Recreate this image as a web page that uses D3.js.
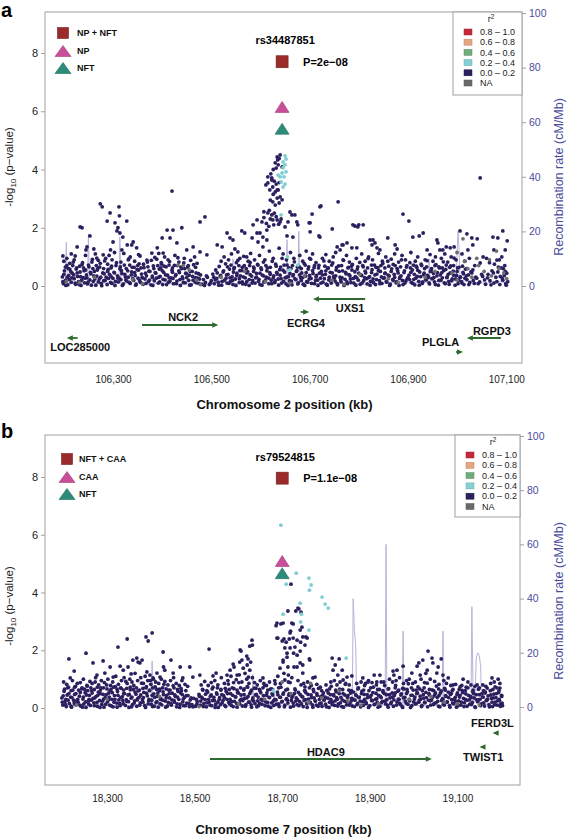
<!DOCTYPE html>
<html><head><meta charset="utf-8">
<script src="https://cdn.jsdelivr.net/npm/d3@7"></script>
<style>body{margin:0;background:#fff;}svg{display:block;}</style>
</head><body><svg id="c" width="567" height="838"></svg>
<script>
// ---------------- DATA ----------------
const yTicks = [0, 2, 4, 6, 8];
const recTicks = [0, 20, 40, 60, 80, 100];
const r2Labels = ["0.8 \u2013 1.0", "0.6 \u2013 0.8", "0.4 \u2013 0.6", "0.2 \u2013 0.4", "0.0 \u2013 0.2", "NA"];
const r2Colors = ["#c42a3c", "#e6a583", "#6fae7c", "#86d1d3", "#2c1f5f", "#6a6a6a"];

// Panel a
const aTicks = [106300, 106500, 106700, 106900, 107100];
const aLegend = ["NP + NFT", "NP", "NFT"];
const aLeadName = "rs34487851";
const aLeadP = "P=2e\u221208";
const aLeadKb = 106644;
const aLeadLogP = [7.70, 6.15, 5.40];
const aGeneNames = ["LOC285000", "NCK2", "ECRG4", "UXS1", "PLGLA", "RGPD3"];
const aGeneStart = [106210, 106359, 106682, 106711, 106998, 107024];
const aGeneEnd = [106228, 106510, 106695, 106813, 107008, 107089];
const aGeneStrand = ["-", "+", "+", "-", "+", "-"];

const aDarkBand = [[106197,.31],[106199,.08],[106201,.52],[106203,.19],[106206,.7],[106208,.04],[106210,.36],[106212,.58],[106215,.13],[106217,.44],
[106219,.82],[106221,.25],[106224,.06],[106226,.62],[106228,.33],[106230,.15],[106233,.48],[106235,.02],[106237,.74],[106239,.29],
[106242,.11],[106244,.55],[106246,.38],[106248,.07],[106251,.66],[106253,.21],[106255,.42],[106258,.91],[106260,.16],[106262,.5],
[106265,.03],[106267,.34],[106269,.6],[106272,.24],[106274,.78],[106276,.09],[106279,.45],[106281,.18],[106283,.86],[106286,.3],
[106288,.05],[106290,.57],[106293,.4],[106295,.12],[106297,.68],[106300,.26],[106302,.47],[106304,.02],[106307,.8],[106309,.35],
[106311,.14],[106314,.59],[106316,.22],[106318,.43],[106321,.07],[106323,.72],[106325,.31],[106328,.17],[106330,.52],[106332,.93],
[106335,.09],[106337,.38],[106339,.64],[106342,.2],[106344,.46],[106346,.03],[106349,.56],[106351,.27],[106353,.76],[106356,.12],
[106358,.41],[106361,.06],[106363,.63],[106365,.24],[106368,.35],[106370,.82],[106372,.15],[106375,.5],[106377,.04],[106380,.29],
[106382,.69],[106384,.18],[106387,.44],[106389,.92],[106392,.1],[106394,.58],[106396,.33],[106399,.75],[106401,.05],[106403,.47],
[106406,.21],[106408,.66],[106411,.37],[106413,.13],[106415,.84],[106418,.28],[106420,.54],[106423,.08],[106425,.71],[106428,.39],
[106430,.17],[106432,.97],[106435,.46],[106437,.02],[106440,.6],[106442,.25],[106444,.79],[106447,.11],[106449,.42],[106452,.65],
[106454,.19],[106457,.5],[106459,.04],[106462,.33],[106464,.73],[106467,.14],[106469,.45],[106472,.27],[106475,.09],[106478,.38],
[106481,.06],[106484,.22],[106488,.12],[106492,.3],[106496,.05],[106500,.18],[106503,.41],[106506,.08],[106509,.55],[106511,.26],
[106514,.13],[106516,.67],[106519,.36],[106521,.03],[106524,.48],[106527,.2],[106529,.76],[106532,.1],[106534,.4],[106537,.58],
[106539,.16],[106542,.31],[106544,.05],[106547,.63],[106549,.24],[106552,.44],[106554,.88],[106557,.12],[106559,.35],[106562,.53],
[106564,.07],[106567,.7],[106569,.28],[106572,.15],[106574,.49],[106577,.02],[106579,.81],[106582,.34],[106584,.19],[106587,.6],
[106589,.1],[106592,.43],[106594,.74],[106597,.23],[106599,.05],[106602,.57],[106604,.37],[106607,.14],[106609,.9],[106612,.3],
[106614,.62],[106617,.08],[106619,.46],[106622,.2],[106624,.85],[106627,.35],[106629,.12],[106632,.68],[106634,.41],[106637,.03],
[106639,.56],[106642,.25],[106644,.95],[106647,.16],[106649,.48],[106652,.07],[106654,.72],[106657,.32],[106659,.18],[106662,.6],
[106664,.04],[106667,.39],[106669,.83],[106672,.22],[106674,.53],[106677,.11],[106679,.66],[106682,.29],[106684,.45],[106687,.06],
[106689,.77],[106692,.34],[106694,.15],[106697,.58],[106699,.24],[106702,.92],[106704,.09],[106707,.43],[106709,.63],[106712,.19],
[106714,.36],[106717,.02],[106719,.71],[106722,.27],[106724,.5],[106727,.13],[106729,.86],[106732,.4],[106734,.06],[106737,.61],
[106739,.21],[106742,.47],[106744,.1],[106747,.79],[106749,.33],[106752,.17],[106754,.55],[106757,.04],[106759,.69],[106762,.3],
[106764,.14],[106767,.52],[106769,.88],[106772,.23],[106774,.42],[106777,.08],[106779,.64],[106782,.35],[106784,.12],[106787,.74],
[106789,.26],[106792,.49],[106794,.03],[106797,.58],[106799,.2],[106802,.81],[106804,.38],[106807,.11],[106809,.66],[106812,.29],
[106814,.45],[106817,.07],[106819,.94],[106822,.32],[106824,.16],[106827,.56],[106829,.24],[106832,.72],[106834,.05],[106837,.41],
[106839,.63],[106842,.18],[106844,.5],[106847,.09],[106849,.77],[106852,.28],[106854,.44],[106857,.13],[106859,.85],[106862,.34],
[106864,.06],[106867,.59],[106869,.22],[106872,.4],[106874,.7],[106877,.15],[106879,.53],[106882,.02],[106884,.31],[106887,.9],
[106889,.19],[106892,.46],[106894,.1],[106897,.65],[106899,.27],[106902,.37],[106904,.8],[106907,.12],[106909,.55],[106912,.23],
[106914,.04],[106917,.68],[106919,.33],[106922,.16],[106924,.48],[106927,.75],[106929,.09],[106932,.39],[106934,.6],[106937,.21],
[106939,.87],[106942,.3],[106944,.07],[106947,.52],[106949,.25],[106952,.43],[106954,.14],[106957,.73],[106959,.35],[106962,.03],
[106964,.62],[106967,.2],[106969,.46],[106972,.83],[106974,.11],[106977,.57],[106979,.29],[106982,.4],[106984,.06],[106987,.69],
[106989,.18],[106992,.51],[106994,.96],[106997,.24],[106999,.36],[107002,.08],[107004,.64],[107007,.3],[107009,.15],[107012,.47],
[107014,.05],[107017,.58],[107020,.22],[107023,.38],[107026,.12],[107030,.45],[107035,.09],[107040,.27],[107046,.14],[107052,.33],
[107058,.06],[107063,.4],[107067,.18],[107071,.52],[107075,.1],[107079,.3],[107083,.48],[107087,.05],[107090,.62],[107093,.2],
[107096,.36],[107099,.08],[107101,.44],[107103,.15]];
const aDarkLow = [[106198,.15],[106204,.02],[106211,.22],[106216,.28],[106223,.1],[106231,.05],[106236,.2],[106243,.27],[106249,.13],[106256,.03],[106263,.24],[106270,.14],[106277,.01],[106284,.19],[106291,.26],[106298,.09],[106305,.16],[106312,.28],[106319,.02],[106326,.21],[106333,.12],[106340,.25],[106347,.06],[106354,.18],[106360,.28],[106367,.09],[106374,.2],[106381,.02],[106388,.27],[106395,.14],[106402,.23],[106409,.05],[106416,.17],[106422,.26],[106429,.08],[106436,.22],[106443,.12],[106450,.29],[106456,.03],[106463,.2],[106470,.11],[106476,.24],[106486,.02],[106498,.1],[106508,.21],[106515,.03],[106522,.16],[106530,.27],[106536,.09],[106543,.19],[106550,.02],[106557,.25],[106563,.14],[106570,.06],[106577,.22],[106583,.1],[106590,.28],[106596,.16],[106603,.03],[106610,.2],[106617,.27],[106623,.08],[106630,.18],[106636,.24],[106643,.1],[106650,.28],[106656,.02],[106663,.17],[106670,.25],[106676,.07],[106683,.19],[106690,.02],[106696,.13],[106703,.26],[106710,.08],[106716,.2],[106723,.1],[106730,.25],[106736,.03],[106743,.17],[106750,.27],[106756,.09],[106763,.21],[106770,.02],[106776,.14],[106783,.24],[106790,.1],[106796,.28],[106803,.06],[106810,.18],[106816,.25],[106823,.03],[106830,.12],[106836,.22],[106843,.08],[106850,.27],[106856,.16],[106863,.02],[106870,.2],[106876,.11],[106883,.26],[106890,.05],[106896,.18],[106903,.23],[106910,.09],[106916,.27],[106923,.03],[106930,.14],[106936,.22],[106943,.11],[106950,.26],[106956,.05],[106963,.19],[106970,.28],[106976,.08],[106983,.16],[106990,.24],[106996,.03],[107003,.2],[107010,.1],[107016,.27],[107024,.05],[107033,.19],[107043,.08],[107056,.21],[107069,.04],[107081,.15],[107092,.26],[107100,.03]];
const aDarkLow2 = [[106200,.4],[106207,.3],[106214,.5],[106220,.38],[106227,.45],[106234,.32],[106241,.52],[106247,.28],[106254,.47],[106261,.35],[106268,.55],[106275,.3],[106282,.42],[106289,.5],[106296,.33],[106303,.45],[106310,.27],[106317,.53],[106324,.4],[106331,.3],[106338,.48],[106345,.36],[106352,.55],[106359,.29],[106366,.44],[106373,.51],[106380,.34],[106386,.46],[106393,.3],[106400,.53],[106407,.38],[106414,.28],[106421,.47],[106427,.35],[106434,.52],[106441,.31],[106448,.44],[106455,.37],[106461,.5],[106468,.29],[106474,.42],[106490,.35],[106505,.3],[106512,.45],[106518,.33],[106525,.52],[106531,.38],[106538,.28],[106545,.48],[106552,.36],[106558,.53],[106565,.31],[106572,.45],[106579,.39],[106586,.5],[106592,.3],[106599,.44],[106606,.35],[106613,.52],[106620,.4],[106626,.28],[106633,.47],[106640,.37],[106646,.54],[106653,.3],[106660,.43],[106666,.35],[106673,.5],[106680,.38],[106686,.29],[106693,.46],[106700,.36],[106706,.53],[106713,.31],[106720,.44],[106726,.38],[106733,.52],[106740,.3],[106746,.45],[106753,.35],[106760,.5],[106766,.28],[106773,.47],[106780,.39],[106786,.55],[106793,.32],[106800,.44],[106806,.36],[106813,.51],[106820,.29],[106826,.46],[106833,.38],[106840,.53],[106846,.31],[106853,.43],[106860,.37],[106866,.5],[106873,.3],[106880,.45],[106886,.35],[106893,.52],[106900,.28],[106906,.47],[106913,.4],[106920,.54],[106926,.32],[106933,.44],[106940,.36],[106946,.5],[106953,.29],[106960,.46],[106966,.38],[106973,.53],[106980,.31],[106986,.45],[106993,.37],[107000,.5],[107006,.3],[107013,.42],[107019,.35],[107028,.48],[107038,.3],[107050,.4],[107062,.28],[107074,.45],[107088,.33],[107098,.5]];
const aDarkMid = [[106200,.85],[106206,.95],[106212,.78],[106221,.9],[106238,.8],[106244,1.05],[106257,.82],[106264,1.1],[106270,.88],[106285,.95],[106292,1.05],[106298,.9],[106303,1.15],[106316,.82],[106322,1.12],[106331,.9],[106344,.85],[106352,1.08],[106362,.75],[106378,.88],[106385,.98],[106393,1.12],[106398,.8],[106405,1.0],[106412,.9],[106426,1.05],[106434,.82],[106445,.95],[106458,.88],[106466,1.0],[106471,.78],[106520,.85],[106526,1.0],[106535,.9],[106541,1.1],[106551,.8],[106558,.95],[106566,1.02],[106575,.85],[106580,1.12],[106588,.9],[106598,1.05],[106606,.82],[106618,1.2],[106626,.95],[106638,1.3],[106646,1.1],[106653,.9],[106661,1.15],[106668,.95],[106680,1.05],[106686,.85],[106693,1.2],[106700,.95],[106706,1.1],[106713,.8],[106726,.95],[106733,1.08],[106740,.85],[106748,1.0],[106753,1.15],[106768,.9],[106775,1.05],[106781,.82],[106795,.95],[106806,1.1],[106813,.85],[106820,1.0],[106828,.9],[106840,1.12],[106848,.85],[106855,1.0],[106866,.92],[106873,1.1],[106881,.82],[106888,1.05],[106895,.9],[106906,1.15],[106915,.85],[106920,1.0],[106935,.9],[106945,1.08],[106951,.85],[106956,1.0],[106968,.95],[106975,1.1],[106981,.82],[106988,1.0],[106998,.9],[107010,1.1],[107016,.85],[107025,.95],[107036,.7],[107060,.95],[107066,.8],[107076,.75],[107086,.9],[107097,.7]];
const aDarkMid2 = [[106203,.65],[106209,.6],[106218,.7],[106225,.58],[106232,.68],[106240,.62],[106250,.72],[106259,.6],[106266,.7],[106273,.65],[106281,.6],[106289,.75],[106296,.62],[106306,.7],[106315,.66],[106327,.6],[106334,.72],[106343,.64],[106350,.7],[106357,.62],[106371,.66],[106383,.6],[106391,.7],[106397,.62],[106404,.68],[106414,.72],[106421,.62],[106431,.7],[106438,.65],[106446,.6],[106453,.7],[106468,.64],[106533,.66],[106540,.72],[106546,.6],[106556,.7],[106563,.64],[106571,.6],[106578,.7],[106586,.65],[106595,.72],[106601,.62],[106611,.7],[106620,.64],[106631,.75],[106641,.65],[106648,.72],[106658,.62],[106665,.7],[106675,.65],[106683,.6],[106691,.72],[106698,.66],[106710,.7],[106718,.62],[106731,.68],[106738,.62],[106745,.72],[106755,.64],[106765,.7],[106778,.62],[106785,.68],[106798,.66],[106808,.7],[106818,.62],[106826,.72],[106835,.64],[106845,.7],[106853,.62],[106861,.68],[106870,.74],[106878,.6],[106885,.66],[106898,.7],[106905,.62],[106911,.72],[106918,.64],[106928,.7],[106938,.66],[106948,.6],[106955,.7],[106963,.66],[106970,.62],[106978,.72],[106985,.64],[106993,.7],[107001,.62],[107011,.68],[107020,.6],[107084,.65],[107094,.6]];
const aDarkHigh = [[106198,1.03],[106215,1.1],[106223,1.03],[106227,1.34],[106237,2.0],[106233,2.03],[106247,1.34],[106253,1.72],[106245,1.24],[106261,1.27],[106274,2.82],[106278,2.72],[106294,2.51],[106304,2.17],[106288,2.23],[106312,2.72],[106313,2.41],[106328,2.23],[106308,1.89],[106310,2.0],[106314,1.82],[106300,1.51],[106320,1.68],[106329,1.41],[106338,1.41],[106341,1.51],[106348,1.31],[106318,1.24],[106295,1.24],[106280,1.07],[106267,.96],[106335,1.0],[106355,1.03],[106369,.89],
[106420,3.26],[106410,1.92],[106422,1.92],[106440,2.0],[106400,1.65],[106390,1.31],[106416,1.65],[106430,1.48],[106402,1.13],[106379,1.13],[106450,1.24],[106477,2.2],[106487,2.37],[106463,1.34],[106477,1.17],[106491,1.07],[106512,1.41],[106522,1.34],[106532,1.82],[106538,1.65],[106544,1.58],[106548,1.27],[106562,1.89],[106554,1.17],[106572,1.0],[106583,1.65],[106593,2.27],[106595,1.51],[106599,1.82],[106605,1.34],[106613,1.92],
[106640,4.5],[106634,4.43],[106635,4.33],[106636,4.16],[106630,4.23],[106644,4.09],[106615,3.75],[106611,3.47],[106623,3.64],[106625,3.4],[106619,3.3],[106630,3.23],[106636,3.3],[106640,3.06],[106644,2.96],[106634,3.02],[106625,2.89],[106630,2.78],[106615,2.51],[106623,2.44],[106625,2.27],[106634,2.27],[106640,2.2],[106660,2.54],[106664,2.44],[106674,2.2],[106656,2.2],[106676,2.1],[106650,2.03],[106701,2.17],[106721,2.72],[106758,2.89],[106585,2.1],[106593,1.82],[106568,1.82],[106605,1.68],[106613,1.58],[106701,1.86],[106721,1.68],[106756,1.34],[106766,1.41],[106776,1.48],[106788,2.1],[106809,2.1],[106798,2.03],[106829,1.58],
[106615,3.54],[106623,3.71],[106634,3.3],[106607,2.35],[106612,2.15],[106617,2.05],[106620,2.3],[106627,2.1],[106632,2.38],[106637,2.12],[106642,2.3],[106628,2.5],[106618,2.6],[106632,3.5],[106638,3.55],[106628,3.6],[106621,3.85],[106626,4.0],[106632,4.05],[106638,4.38],[106626,3.15],[106620,2.95],[106638,2.85],[106603,2.2],[106607,2.55],
[106670,2.44],[106654,1.72],[106666,1.68],[106705,2.47],[106723,2.75],[106746,1.96],[106699,2.17],[106792,2.06],[106800,2.1],[106719,1.72],[106768,1.41],[106762,1.24],[106786,1.31],[106796,1.31],[106823,1.58],[106833,1.48],[106827,1.41],[106837,1.31],[106843,1.24],[106859,1.65],[106874,1.41],[106878,1.27],[106890,2.47],[106902,2.23],[106910,1.68],[106923,1.72],[106931,1.82],[106939,1.24],[106959,1.58],[106961,1.48],[106965,1.24],[106971,1.24],[106978,1.34],[106986,1.31],[106994,1.34],[107006,1.89],[107020,1.79],[107030,1.65],[107041,1.62],[107047,3.71],[107032,1.41],[107022,1.24],[107053,1.0],[107073,1.68],[107083,1.65],[107093,1.89],[107102,1.55],[107098,1.24],[107091,1.0],[107075,1.24],[107081,.89],[107047,.79],[107032,.55]];
const aNA = [[106205,.15],[106232,.12],[106262,.3],[106340,.22],[106360,.08],[106432,.72],[106443,.7],[106455,.55],[106470,.2],[106478,.05],[106520,.3],[106568,.5],[106610,.15],[106660,.1],[106690,.35],[106745,.2],[106770,.06],[106802,.4],[106860,.25],[106880,.12],[106935,.3],[106955,.5],[106990,.45],[107000,.2],[107015,.85],[107022,.6],[107030,.3],[107044,.7],[107055,.5],[107066,.9],[107070,.35],[107085,.6],[107095,.45],[107101,.25],[107012,1.62],[107000,1.15],[107040,.95],[107080,1.2]];
const aCyan = [[106650,4.47],[106652,4.36],[106646,4.26],[106650,4.16],[106646,4.06],[106652,3.92],[106644,3.88],[106640,3.75],[106648,3.75],[106642,3.57],[106650,3.5],[106646,3.4],[106636,3.81],[106642,2.44],[106676,.72],[106660,.55],[106655,1.0]];
const aRec = [[106197,1.2],[106203,1.5],[106205,16],[106207,1.0],[106215,0.8],[106230,1.5],[106248,1.2],[106250,19],[106252,1.0],[106270,0.8],[106290,1.2],[106312,1.0],[106314,18],[106316,0.8],[106340,1.5],[106370,0.5],[106400,1.2],[106430,0.6],[106460,1.0],[106490,0.5],[106520,1.5],[106542,1.0],[106544,10],[106546,0.8],[106580,1.3],[106610,0.9],[106652,1.0],[106654,17],[106656,1.2],[106676,1.5],[106678,20],[106680,1.5],[106700,1.0],[106730,0.8],[106770,1.2],[106810,0.6],[106850,1.0],[106890,1.5],[106930,1.2],[106941,1.5],[106943,10],[106945,2.0],[106970,1.3],[106998,2],[107000,12],[107002,20],[107004,14],[107006,2],[107030,1.5],[107060,1.0],[107080,1.8],[107104,1.0]];

// Panel b
const bTicks = [18300, 18500, 18700, 18900, 19100];
const bLegend = ["NFT + CAA", "CAA", "NFT"];
const bLeadName = "rs79524815";
const bLeadP = "P=1.1e\u221208";
const bLeadKb = 18700;
const bLeadLogP = [7.96, 5.09, 4.67];
const bGeneNames = ["HDAC9", "TWIST1", "FERD3L"];
const bGeneStart = [18535, 19155, 19185];
const bGeneEnd = [19037, 19163, 19193];
const bGeneStrand = ["+", "-", "-"];

const bDarkBand = [[18197,.35],[18199,.1],[18202,.58],[18204,.22],[18207,.05],[18209,.45],[18212,.72],[18214,.16],[18217,.38],[18219,.03],
[18222,.62],[18224,.27],[18227,.12],[18229,.5],[18232,.85],[18234,.2],[18237,.41],[18240,.07],[18242,.66],[18245,.31],
[18247,.14],[18250,.53],[18252,.02],[18255,.76],[18257,.24],[18260,.44],[18262,.09],[18265,.61],[18268,.33],[18270,.18],
[18273,.9],[18275,.4],[18278,.06],[18280,.55],[18283,.26],[18286,.7],[18288,.13],[18291,.47],[18293,.03],[18296,.36],
[18299,.8],[18301,.21],[18304,.52],[18306,.1],[18309,.64],[18311,.3],[18314,.04],[18317,.43],[18319,.74],[18322,.17],
[18324,.57],[18327,.28],[18330,.08],[18332,.68],[18335,.39],[18337,.15],[18340,.5],[18343,.92],[18345,.23],[18348,.45],
[18350,.02],[18353,.63],[18355,.34],[18358,.12],[18361,.78],[18363,.25],[18366,.48],[18368,.06],[18371,.59],[18373,.37],
[18376,.18],[18379,.86],[18381,.29],[18384,.54],[18386,.09],[18389,.7],[18392,.42],[18394,.14],[18397,.6],[18399,.95],
[18402,.27],[18404,.05],[18407,.49],[18410,.73],[18412,.19],[18415,.4],[18417,.03],[18420,.65],[18423,.32],[18425,.11],
[18428,.56],[18430,.82],[18433,.24],[18436,.44],[18438,.07],[18441,.62],[18443,.35],[18446,.15],[18449,.51],[18451,.77],
[18454,.2],[18456,.4],[18459,.04],[18462,.58],[18464,.3],[18467,.13],[18469,.68],[18472,.46],[18475,.08],[18477,.37],
[18480,.6],[18482,.17],[18485,.43],[18488,.05],[18490,.28],[18494,.12],[18498,.33],[18502,.06],[18506,.22],[18510,.47],
[18513,.1],[18516,.38],[18519,.62],[18521,.15],[18524,.29],[18527,.04],[18530,.55],[18533,.2],[18536,.41],[18539,.08],
[18542,.72],[18545,.26],[18548,.13],[18551,.48],[18554,.02],[18557,.36],[18560,.64],[18563,.18],[18566,.44],[18569,.09],
[18572,.58],[18574,.3],[18577,.83],[18580,.14],[18582,.5],[18585,.22],[18588,.05],[18590,.67],[18593,.39],[18596,.16],
[18598,.53],[18601,.88],[18604,.27],[18606,.45],[18609,.07],[18612,.62],[18614,.33],[18617,.12],[18620,.74],[18622,.4],
[18625,.2],[18628,.56],[18630,.03],[18633,.35],[18636,.69],[18638,.15],[18641,.47],[18644,.25],[18646,.08],[18649,.6],
[18652,.3],[18654,.13],[18657,.43],[18660,.78],[18662,.21],[18665,.52],[18668,.06],[18670,.37],[18673,.65],[18676,.18],
[18678,.45],[18681,.09],[18684,.84],[18686,.28],[18689,.55],[18692,.14],[18694,.38],[18697,.72],[18700,.23],[18702,.48],
[18705,.04],[18708,.62],[18710,.32],[18713,.17],[18716,.5],[18718,.88],[18721,.26],[18724,.42],[18726,.07],[18729,.66],
[18732,.35],[18734,.12],[18737,.54],[18740,.22],[18743,.8],[18745,.4],[18748,.05],[18751,.6],[18753,.29],[18756,.15],
[18759,.47],[18762,.7],[18764,.19],[18767,.36],[18770,.03],[18772,.57],[18775,.25],[18778,.1],[18780,.44],[18783,.68],
[18786,.16],[18788,.39],[18791,.06],[18794,.52],[18796,.28],[18799,.13],[18802,.61],[18804,.34],[18807,.02],[18810,.46],
[18812,.75],[18815,.2],[18818,.42],[18820,.09],[18823,.56],[18826,.3],[18828,.14],[18831,.65],[18834,.37],[18836,.05],
[18839,.5],[18842,.24],[18844,.82],[18847,.11],[18850,.43],[18852,.62],[18855,.18],[18858,.33],[18860,.07],[18863,.55],
[18866,.27],[18868,.45],[18871,.12],[18874,.7],[18876,.38],[18879,.04],[18882,.58],[18884,.22],[18887,.47],[18890,.85],
[18892,.15],[18895,.36],[18898,.6],[18900,.08],[18903,.44],[18906,.26],[18908,.72],[18911,.13],[18914,.51],[18916,.32],
[18919,.03],[18922,.64],[18924,.4],[18927,.19],[18930,.55],[18932,.9],[18935,.24],[18938,.46],[18940,.1],[18943,.67],
[18946,.35],[18948,.15],[18951,.52],[18954,.06],[18956,.43],[18959,.78],[18962,.21],[18964,.58],[18967,.3],[18970,.12],
[18972,.49],[18975,.02],[18978,.66],[18980,.37],[18983,.17],[18986,.56],[18988,.84],[18991,.25],[18994,.44],[18996,.08],
[18999,.62],[19002,.31],[19004,.14],[19007,.5],[19010,.73],[19012,.2],[19015,.41],[19018,.05],[19020,.6],[19023,.34],
[19026,.18],[19028,.54],[19031,.86],[19034,.27],[19036,.45],[19039,.1],[19042,.63],[19044,.38],[19047,.16],[19050,.52],
[19052,.76],[19055,.23],[19058,.43],[19060,.04],[19063,.59],[19066,.32],[19068,.13],[19071,.68],[19074,.4],[19076,.2],
[19079,.55],[19082,.08],[19084,.47],[19087,.29],[19090,.64],[19092,.15],[19095,.37],[19098,.03],[19100,.52],[19103,.25],
[19106,.44],[19108,.1],[19111,.61],[19114,.33],[19116,.18],[19119,.49],[19122,.06],[19124,.7],[19127,.28],[19130,.4],
[19132,.12],[19135,.57],[19138,.35],[19140,.04],[19143,.46],[19146,.22],[19148,.65],[19151,.3],[19154,.14],[19156,.5],
[19159,.38],[19162,.07],[19164,.55],[19167,.26],[19170,.42],[19172,.12],[19175,.6],[19178,.33],[19180,.05],[19183,.48],
[19186,.2],[19188,.36],[19191,.1],[19194,.53],[19196,.27],[19199,.15],[19201,.4],[19203,.08]];
const bDarkLow = [[18198,.2],[18205,.12],[18211,.27],[18218,.06],[18225,.18],[18231,.25],[18238,.1],[18244,.03],[18251,.21],[18258,.14],[18264,.27],[18271,.08],[18277,.19],[18284,.02],[18290,.24],[18297,.13],[18303,.28],[18310,.07],[18316,.2],[18323,.03],[18329,.16],[18336,.26],[18342,.09],[18349,.22],[18356,.04],[18362,.17],[18369,.28],[18375,.1],[18382,.2],[18388,.02],[18395,.25],[18401,.13],[18408,.06],[18414,.22],[18421,.15],[18427,.27],[18434,.03],[18440,.19],[18447,.1],[18453,.26],[18460,.14],[18466,.02],[18473,.21],[18479,.08],[18487,.16],[18496,.04],[18505,.13],[18514,.24],[18520,.05],[18528,.18],[18535,.1],[18541,.26],[18547,.02],[18553,.2],[18559,.12],[18565,.27],[18571,.05],[18578,.19],[18584,.09],[18591,.23],[18597,.03],[18603,.15],[18610,.26],[18616,.06],[18623,.2],[18629,.11],[18635,.24],[18642,.04],[18648,.17],[18655,.27],[18661,.08],[18667,.19],[18674,.02],[18680,.25],[18687,.13],[18693,.05],[18699,.21],[18706,.1],[18712,.27],[18719,.03],[18725,.17],[18731,.24],[18738,.08],[18744,.14],[18750,.26],[18757,.02],[18763,.19],[18769,.11],[18776,.24],[18782,.06],[18789,.17],[18795,.28],[18801,.04],[18808,.2],[18814,.12],[18821,.25],[18827,.07],[18833,.18],[18840,.03],[18846,.22],[18853,.1],[18859,.27],[18865,.05],[18872,.16],[18878,.24],[18885,.09],[18891,.2],[18897,.02],[18904,.26],[18910,.12],[18917,.19],[18923,.06],[18929,.23],[18936,.14],[18942,.03],[18949,.2],[18955,.28],[18961,.1],[18968,.17],[18974,.05],[18981,.24],[18987,.13],[18993,.02],[19000,.21],[19006,.16],[19013,.27],[19019,.09],[19025,.2],[19032,.04],[19038,.25],[19045,.12],[19051,.18],[19057,.06],[19064,.26],[19070,.1],[19077,.21],[19083,.03],[19089,.17],[19096,.24],[19102,.09],[19109,.2],[19115,.05],[19121,.27],[19128,.13],[19134,.19],[19141,.02],[19147,.24],[19153,.08],[19160,.18],[19166,.27],[19173,.04],[19179,.2],[19185,.11],[19192,.25],[19198,.06],[19202,.17]];
const bDarkLow2 = [[18200,.42],[18206,.3],[18213,.5],[18220,.36],[18226,.47],[18233,.3],[18239,.54],[18246,.38],[18253,.45],[18259,.3],[18266,.52],[18272,.35],[18279,.44],[18285,.5],[18292,.31],[18298,.46],[18305,.38],[18312,.53],[18318,.3],[18325,.44],[18331,.36],[18338,.5],[18344,.29],[18351,.47],[18357,.38],[18364,.55],[18370,.32],[18377,.45],[18383,.36],[18390,.51],[18396,.3],[18403,.44],[18409,.37],[18416,.52],[18422,.3],[18429,.46],[18435,.35],[18442,.5],[18448,.28],[18455,.45],[18461,.38],[18468,.52],[18474,.31],[18481,.43],[18492,.35],[18504,.3],[18511,.4],[18518,.33],[18525,.48],[18532,.3],[18538,.45],[18544,.37],[18550,.52],[18556,.29],[18562,.46],[18568,.36],[18575,.5],[18581,.3],[18587,.44],[18594,.38],[18600,.52],[18607,.31],[18613,.46],[18619,.35],[18626,.5],[18632,.28],[18639,.45],[18645,.38],[18651,.53],[18658,.3],[18664,.44],[18671,.36],[18677,.5],[18683,.3],[18690,.46],[18696,.37],[18703,.52],[18709,.3],[18715,.44],[18722,.36],[18728,.5],[18735,.29],[18741,.46],[18747,.38],[18754,.53],[18760,.31],[18766,.45],[18773,.35],[18779,.5],[18785,.3],[18792,.44],[18798,.38],[18805,.52],[18811,.3],[18817,.46],[18824,.36],[18830,.5],[18837,.28],[18843,.45],[18849,.37],[18856,.52],[18862,.31],[18869,.43],[18875,.36],[18881,.5],[18888,.3],[18894,.46],[18901,.38],[18907,.53],[18913,.3],[18920,.44],[18926,.36],[18933,.5],[18939,.29],[18945,.46],[18952,.38],[18958,.52],[18965,.31],[18971,.45],[18977,.35],[18984,.5],[18990,.3],[18997,.44],[19003,.38],[19009,.52],[19016,.3],[19022,.46],[19029,.36],[19035,.5],[19041,.28],[19048,.45],[19054,.37],[19061,.52],[19067,.31],[19073,.43],[19080,.36],[19086,.5],[19093,.3],[19099,.46],[19105,.38],[19112,.53],[19118,.3],[19125,.44],[19131,.36],[19137,.5],[19144,.29],[19150,.46],[19157,.38],[19163,.52],[19169,.31],[19176,.45],[19182,.35],[19189,.5],[19195,.3],[19201,.44]];
const bDarkMid = [[18201,.9],[18208,.82],[18221,.95],[18228,.75],[18239,.88],[18246,1.0],[18254,.78],[18261,.92],[18266,.85],[18274,1.05],[18281,.8],[18287,.95],[18294,.88],[18302,1.0],[18308,.78],[18313,.9],[18320,1.1],[18326,.82],[18333,.95],[18339,1.05],[18346,.85],[18352,1.0],[18357,.9],[18364,1.2],[18370,.95],[18377,1.05],[18383,.85],[18387,1.1],[18393,.95],[18400,.82],[18406,1.0],[18411,.9],[18418,.85],[18424,1.0],[18432,.92],[18439,.8],[18445,.95],[18452,1.05],[18458,.85],[18465,.78],[18471,.95],[18478,.82],[18484,.75],[18515,.8],[18523,.92],[18531,.78],[18538,.88],[18546,.95],[18553,.8],[18561,1.05],[18568,.85],[18576,.95],[18583,1.1],[18589,.88],[18595,.98],[18602,1.15],[18608,.9],[18615,1.2],[18619,1.0],[18624,.85],[18632,1.05],[18637,.88],[18643,.8],[18650,.95],[18658,.85],[18664,.78],[18671,.9],[18683,.95],[18690,1.1],[18696,.85],[18704,1.2],[18714,.9],[18722,1.05],[18736,.95],[18749,.85],[18758,.9],[18766,.78],[18779,.82],[18787,.72],[18800,.8],[18811,.9],[18819,.95],[18825,.8],[18832,.9],[18845,.85],[18853,.8],[18870,.85],[18880,.9],[18888,.78],[18897,.95],[18905,.88],[18915,.8],[18926,.9],[18934,.78],[18945,1.0],[18952,.9],[18960,.95],[18968,1.05],[18977,.85],[18984,.95],[18990,1.0],[18998,.85],[19004,.9],[19017,1.0],[19025,.88],[19028,1.2],[19038,1.0],[19048,.92],[19058,.82],[19069,.95],[19075,.85],[19085,.78],[19096,.82],[19110,.78],[19120,.72],[19131,.8],[19140,.75],[19150,.7],[19158,.8],[19165,.75],[19176,.85],[19184,.9],[19190,.7],[19197,.85]];
const bDarkMid2 = [[18203,.65],[18210,.7],[18218,.6],[18226,.72],[18235,.62],[18243,.7],[18249,.65],[18256,.6],[18263,.7],[18271,.64],[18278,.72],[18285,.62],[18292,.7],[18300,.66],[18307,.6],[18315,.72],[18323,.65],[18331,.7],[18338,.62],[18345,.68],[18353,.72],[18360,.64],[18367,.7],[18374,.62],[18382,.68],[18390,.74],[18397,.62],[18404,.7],[18413,.65],[18420,.6],[18427,.7],[18435,.66],[18444,.62],[18453,.7],[18461,.64],[18470,.6],[18518,.64],[18528,.6],[18540,.66],[18552,.7],[18560,.62],[18570,.68],[18579,.64],[18586,.7],[18597,.62],[18605,.7],[18613,.66],[18621,.72],[18630,.62],[18640,.68],[18648,.64],[18656,.7],[18667,.62],[18676,.66],[18692,.7],[18712,.65],[18730,.62],[18752,.6],[18771,.64],[18790,.6],[18808,.66],[18822,.62],[18838,.64],[18858,.6],[18873,.66],[18886,.62],[18902,.7],[18918,.64],[18930,.6],[18942,.66],[18958,.7],[18966,.62],[18975,.68],[18985,.64],[18995,.7],[19006,.62],[19014,.66],[19024,.7],[19036,.64],[19046,.6],[19057,.66],[19072,.62],[19088,.6],[19104,.64],[19118,.6],[19136,.62],[19160,.6],[19181,.64],[19195,.6]];
const bDarkHigh = [[18213,1.7],[18225,1.28],[18216,1.04],[18252,1.9],[18268,1.56],[18277,1.14],[18291,1.63],[18295,1.21],[18307,1.42],[18314,1.07],[18325,2.11],[18330,1.45],[18337,1.31],[18346,2.39],[18348,1.42],[18355,1.18],[18359,1.66],[18368,1.73],[18371,1.59],[18375,1.56],[18380,1.66],[18389,2.46],[18394,2.32],[18403,2.6],[18391,1.25],[18398,1.14],[18405,1.04],[18414,1.21],[18428,1.94],[18429,1.42],[18432,1.31],[18421,1.07],[18446,1.66],[18451,1.21],[18467,1.42],[18473,1.04],[18489,1.42],[18496,1.07],[18512,1.14],[18533,2.04],[18542,1.11],[18549,1.21],[18574,1.14],[18581,1.31],[18590,1.42],[18597,1.14],[18604,2.01],[18608,1.66],[18611,1.38],[18620,1.49],[18622,1.7],[18626,1.31],[18631,2.35],[18632,2.18],[18623,1.07],[18656,1.04],[18606,1.97],[18619,1.8],[18628,1.59],[18603,1.59],[18588,1.52],[18626,2.14],
[18720,4.29],[18713,3.36],[18702,2.94],[18697,2.91],[18738,3.43],[18743,3.32],[18725,2.91],[18745,2.8],[18719,2.66],[18688,2.42],[18700,2.32],[18709,2.28],[18734,2.35],[18754,2.46],[18752,2.18],[18718,2.08],[18711,1.9],[18726,1.9],[18741,1.97],[18702,1.59],[18713,1.42],[18734,1.42],[18741,1.56],[18695,1.38],[18747,1.21],[18714,1.14],[18763,1.66],[18706,.97],[18690,2.42],[18704,2.39],[18716,2.39],[18725,2.42],[18731,3.36],[18736,3.46],[18722,2.94],[18741,2.7],[18747,2.46],[18757,2.42],[18742,2.28],[18718,2.6],[18706,2.08],[18729,2.11],[18734,1.83],[18762,1.7],[18747,1.49],[18711,1.76],[18727,1.42],[18702,1.66],[18688,2.94],[18686,2.85],
[18770,1.04],[18775,1.07],[18752,.73],[18814,1.73],[18830,1.7],[18821,1.49],[18816,1.31],[18837,1.31],[18827,1.14],[18848,1.07],[18859,1.11],[18839,.97],[18884,1.04],[18896,.9],[18910,1.14],[18923,1.14],[18916,.9],[18953,1.28],[18962,1.31],[18955,1.14],[18976,1.45],[18996,1.21],[19008,1.45],[19012,1.56],[19021,1.66],[19033,1.97],[19042,1.73],[19044,1.56],[19031,1.31],[19015,1.14],[19063,1.7],[19056,1.42],[19053,1.21],[19067,1.14],[19079,1.04],[19106,.73],[19113,1.0],[19124,.9],[19145,.8],[19168,.69],[19179,1.04],[19193,1.0],[19186,.73],[19197,.69],[19090,.8]];
const bNA = [[18230,.1],[18300,.3],[18420,.4],[18510,.05],[18600,.15],[18660,.3],[18720,.5],[18760,.2],[18790,.35],[18830,.6],[18850,.25],[18880,.1],[18920,.15],[18990,.3],[19040,.4],[19070,.2],[19100,.15],[19150,.1],[18700,.9],[18765,.85]];
const bCyan = [[18697,6.33],[18732,4.67],[18709,4.29],[18761,4.5],[18766,4.26],[18762,4.08],[18791,3.84],[18798,3.6],[18805,3.46],[18741,3.63],[18702,3.25],[18742,2.98],[18761,2.7],[18846,1.73],[18679,.59],[18744,3.25]];
const bRec = [[18197,0.5],[18230,0.8],[18270,0.3],[18320,0.6],[18360,0.4],[18401,0.8],[18403,17],[18405,0.8],[18440,0.5],[18480,0.3],[18520,0.6],[18560,0.4],[18600,0.5],[18631,0.6],[18633,12],[18635,0.8],[18660,0.5],[18680,0.8],[18682,7],[18684,0.8],[18720,0.4],[18760,0.6],[18800,0.3],[18840,0.5],[18860,0.8],[18862,40],[18865,28],[18868,22],[18870,1],[18900,0.6],[18935,0.8],[18937,60],[18939,1],[18960,0.5],[18974,0.8],[18976,28],[18978,0.8],[19020,0.5],[19065,0.6],[19067,28],[19069,0.8],[19100,0.5],[19131,0.6],[19133,37],[19136,1],[19140,3],[19143,18],[19146,20],[19150,19],[19153,15],[19155,2],[19170,0.8],[19203,0.5]];

// ---------------- LAYOUT / DRAWING ----------------
const FONT = '"Liberation Sans", Arial, Helvetica, sans-serif';
const svg = d3.select("#c").attr("font-family", FONT);
const C = {dark:"#2c1f5f", cyan:"#7dcfd2", na:"#6e6e6e", rec:"#b8b4d8", frame:"#a0a0a0",
           axisBlue:"#4b4c9c", gene:"#2f6a2f", sq:"#9b2b2a", pink:"#c84f97", teal:"#2c8c79"};

function drawPanel(P) {
  const g = svg.append("g");
  const x = d3.scaleLinear().domain(P.xDomain).range([P.left, P.right]);
  const y = d3.scaleLinear().domain([0, 8]).range([P.y0, P.y8]);
  const rec = d3.scaleLinear().domain([0, 100]).range([P.rec0, P.rec100]);

  g.append("text").attr("x", 1).attr("y", P.letterY).attr("font-size", 20).attr("font-weight", "bold").text(P.letter);

  g.append("rect").attr("x", P.left).attr("y", P.top).attr("width", P.right - P.left).attr("height", P.bottom - P.top)
    .attr("fill", "none").attr("stroke", C.frame).attr("stroke-width", 1);

  g.append("path").datum(P.rec).attr("fill", "none").attr("stroke", C.rec).attr("stroke-width", 1)
    .attr("d", d3.line().x(d => x(d[0])).y(d => rec(d[1])));

  const pts = (arr, col) => g.append("g").selectAll("circle").data(arr).join("circle")
    .attr("cx", d => x(d[0])).attr("cy", d => y(d[1])).attr("r", 1.9).attr("fill", col);
  pts(P.dark, C.dark);
  pts(P.na, C.na);
  pts(P.cyan, C.cyan);

  const lx = x(P.leadKb);
  const sq = 12;
  g.append("rect").attr("x", lx - sq/2).attr("y", y(P.leadLogP[0]) - sq/2).attr("width", sq).attr("height", sq)
    .attr("fill", C.sq).attr("stroke", "#7a1f1f").attr("stroke-width", 0.6);
  const tri = (cx, cy, w, h, col, st) => g.append("path")
    .attr("d", `M${cx},${cy - h/2}L${cx + w/2},${cy + h/2}L${cx - w/2},${cy + h/2}Z`)
    .attr("fill", col).attr("stroke", st).attr("stroke-width", 0.6);
  tri(lx, y(P.leadLogP[1]), 14, 11, C.pink, "#a33a78");
  tri(lx, y(P.leadLogP[2]), 14, 11, C.teal, "#1f6b5b");
  g.append("text").attr("x", lx + 3).attr("y", P.snpNameY).attr("text-anchor", "middle").attr("font-size", 11)
    .attr("font-weight", "bold").text(P.leadName);
  g.append("text").attr("x", lx + 21).attr("y", y(P.leadLogP[0])).attr("dy", "0.35em").attr("font-size", 11)
    .attr("font-weight", "bold").text(P.leadP);

  const gl = g.append("g").attr("transform", `translate(${P.left},0)`)
    .call(d3.axisLeft(y).tickValues(yTicks).tickSize(4).tickPadding(3));
  gl.select(".domain").remove();
  gl.attr("font-family", FONT).attr("font-size", 11);
  gl.selectAll("line").attr("stroke", C.frame);
  gl.selectAll("text").attr("fill", "#222");

  const gr = g.append("g").attr("transform", `translate(${P.right},0)`)
    .call(d3.axisRight(rec).tickValues(recTicks).tickSize(4).tickPadding(3));
  gr.select(".domain").remove();
  gr.attr("font-family", FONT).attr("font-size", 10.5);
  gr.selectAll("line").attr("stroke", C.frame);
  gr.selectAll("text").attr("fill", C.axisBlue);

  const gb = g.append("g").attr("transform", `translate(0,${P.bottom})`)
    .call(d3.axisBottom(x).tickValues(P.ticks).tickFormat(d3.format(",")).tickSize(0).tickPadding(P.tickPad));
  gb.select(".domain").remove();
  gb.attr("font-family", FONT).attr("font-size", 10);
  gb.selectAll("text").attr("fill", "#222");

  const lt = g.append("text").attr("transform", `translate(13,${P.leftTitleY}) rotate(-90)`)
    .attr("text-anchor", "middle").attr("font-size", 11.5).attr("fill", "#222");
  lt.append("tspan").text("-log");
  lt.append("tspan").attr("font-size", 8).attr("dy", 3).text("10");
  lt.append("tspan").attr("dy", -3).text(" (p\u2212value)");
  g.append("text").attr("transform", `translate(563,${P.rightTitleY}) rotate(-90)`)
    .attr("text-anchor", "middle").attr("font-size", 12.5).attr("fill", C.axisBlue).text("Recombination rate (cM/Mb)");
  g.append("text").attr("x", (P.left + P.right) / 2 + P.titleDx).attr("y", P.titleY).attr("text-anchor", "middle")
    .attr("font-size", 13).attr("font-weight", "bold").attr("fill", "#111").text(P.title);

  P.geneNames.forEach((nm, i) => {
    const x1 = x(P.geneStart[i]), x2 = x(P.geneEnd[i]), gy = P.geneRowY[i];
    g.append("line").attr("x1", x1).attr("x2", x2).attr("y1", gy).attr("y2", gy)
      .attr("stroke", C.gene).attr("stroke-width", 1.8);
    const tip = P.geneStrand[i] === "+" ? x2 : x1;
    const dir = P.geneStrand[i] === "+" ? 1 : -1;
    g.append("path").attr("d", `M${tip + dir*2},${gy}L${tip - dir*4},${gy - 2.8}L${tip - dir*4},${gy + 2.8}Z`).attr("fill", C.gene);
    g.append("text").attr("x", (x1 + x2) / 2 + P.geneLabelDx[i]).attr("y", P.geneLabelY[i]).attr("dy", "0.35em")
      .attr("text-anchor", "middle").attr("font-size", 11).attr("font-weight", "bold").attr("fill", "#111").text(nm);
  });

  const L = P.legend;
  g.append("rect").attr("x", L.x - 5.5).attr("y", L.ys[0] - 5.5).attr("width", 11).attr("height", 11)
    .attr("fill", C.sq).attr("stroke", "#7a1f1f").attr("stroke-width", 0.6);
  tri(L.x, L.ys[1], 16, 11, C.pink, "#a33a78");
  tri(L.x, L.ys[2], 16, 11, C.teal, "#1f6b5b");
  P.legendLabels.forEach((t, i) => g.append("text").attr("x", L.tx).attr("y", L.ys[i]).attr("dy", "0.35em")
    .attr("font-size", 9).attr("font-weight", "bold").attr("fill", "#111").text(t));

  const R = P.r2box;
  g.append("rect").attr("x", R.x).attr("y", P.top).attr("width", P.right - R.x).attr("height", R.h)
    .attr("fill", "#fff").attr("stroke", C.frame).attr("stroke-width", 1);
  const rt = g.append("text").attr("x", R.x + 38).attr("y", P.top + 10).attr("text-anchor", "middle").attr("font-size", 9).attr("fill", "#222");
  rt.append("tspan").text("r");
  rt.append("tspan").attr("font-size", 6.5).attr("dy", -3.5).text("2");
  r2Labels.forEach((t, i) => {
    const ry = P.top + R.row0 + i * R.step;
    g.append("rect").attr("x", R.x + 11).attr("y", ry - 3).attr("width", 8).attr("height", 6)
      .attr("fill", r2Colors[i]).attr("stroke", d3.color(r2Colors[i]).darker(0.6)).attr("stroke-width", 0.5);
    g.append("text").attr("x", R.x + 27).attr("y", ry).attr("dy", "0.35em").attr("font-size", 9).attr("fill", "#222").text(t);
  });
}

drawPanel({
  letter: "a", letterY: 17,
  left: 45, right: 522, top: 12, bottom: 363,
  xDomain: [106161.6, 107132.1], y0: 286, y8: 53, rec0: 286, rec100: 13,
  ticks: aTicks, tickPad: 13, title: "Chromosome 2 position (kb)", titleY: 409, titleDx: 1,
  leftTitleY: 167, rightTitleY: 177,
  dark: aDarkBand.concat(aDarkLow, aDarkLow2, aDarkMid, aDarkMid2, aDarkHigh), na: aNA, cyan: aCyan, rec: aRec,
  leadKb: aLeadKb, leadLogP: aLeadLogP, leadName: aLeadName, leadP: aLeadP, snpNameY: 44,
  geneNames: aGeneNames, geneStart: aGeneStart, geneEnd: aGeneEnd, geneStrand: aGeneStrand,
  geneRowY: [338, 325, 312, 299, 352, 338], geneLabelY: [347, 317, 323, 308, 342, 331],
  geneLabelDx: [7, 4, 2, 10, -18, 7],
  legend: {x: 63, tx: 77, ys: [33, 51, 68]}, legendLabels: aLegend,
  r2box: {x: 453, h: 83, row0: 20, step: 10.2}
});
drawPanel({
  letter: "b", letterY: 438,
  left: 45, right: 520, top: 435, bottom: 785,
  xDomain: [18158.4, 19242.9], y0: 708, y8: 477, rec0: 707, rec100: 436,
  ticks: bTicks, tickPad: 10, title: "Chromosome 7 position (kb)", titleY: 834, titleDx: 1,
  leftTitleY: 606, rightTitleY: 601,
  dark: bDarkBand.concat(bDarkLow, bDarkLow2, bDarkMid, bDarkMid2, bDarkHigh), na: bNA, cyan: bCyan, rec: bRec,
  leadKb: bLeadKb, leadLogP: bLeadLogP, leadName: bLeadName, leadP: bLeadP, snpNameY: 461,
  geneNames: bGeneNames, geneStart: bGeneStart, geneEnd: bGeneEnd, geneStrand: bGeneStrand,
  geneRowY: [759, 747, 733], geneLabelY: [752, 757, 723], geneLabelDx: [6, 0, -4],
  legend: {x: 67, tx: 79, ys: [459, 477, 494]}, legendLabels: bLegend,
  r2box: {x: 455, h: 82, row0: 20, step: 10.3}
});
</script></body></html>
